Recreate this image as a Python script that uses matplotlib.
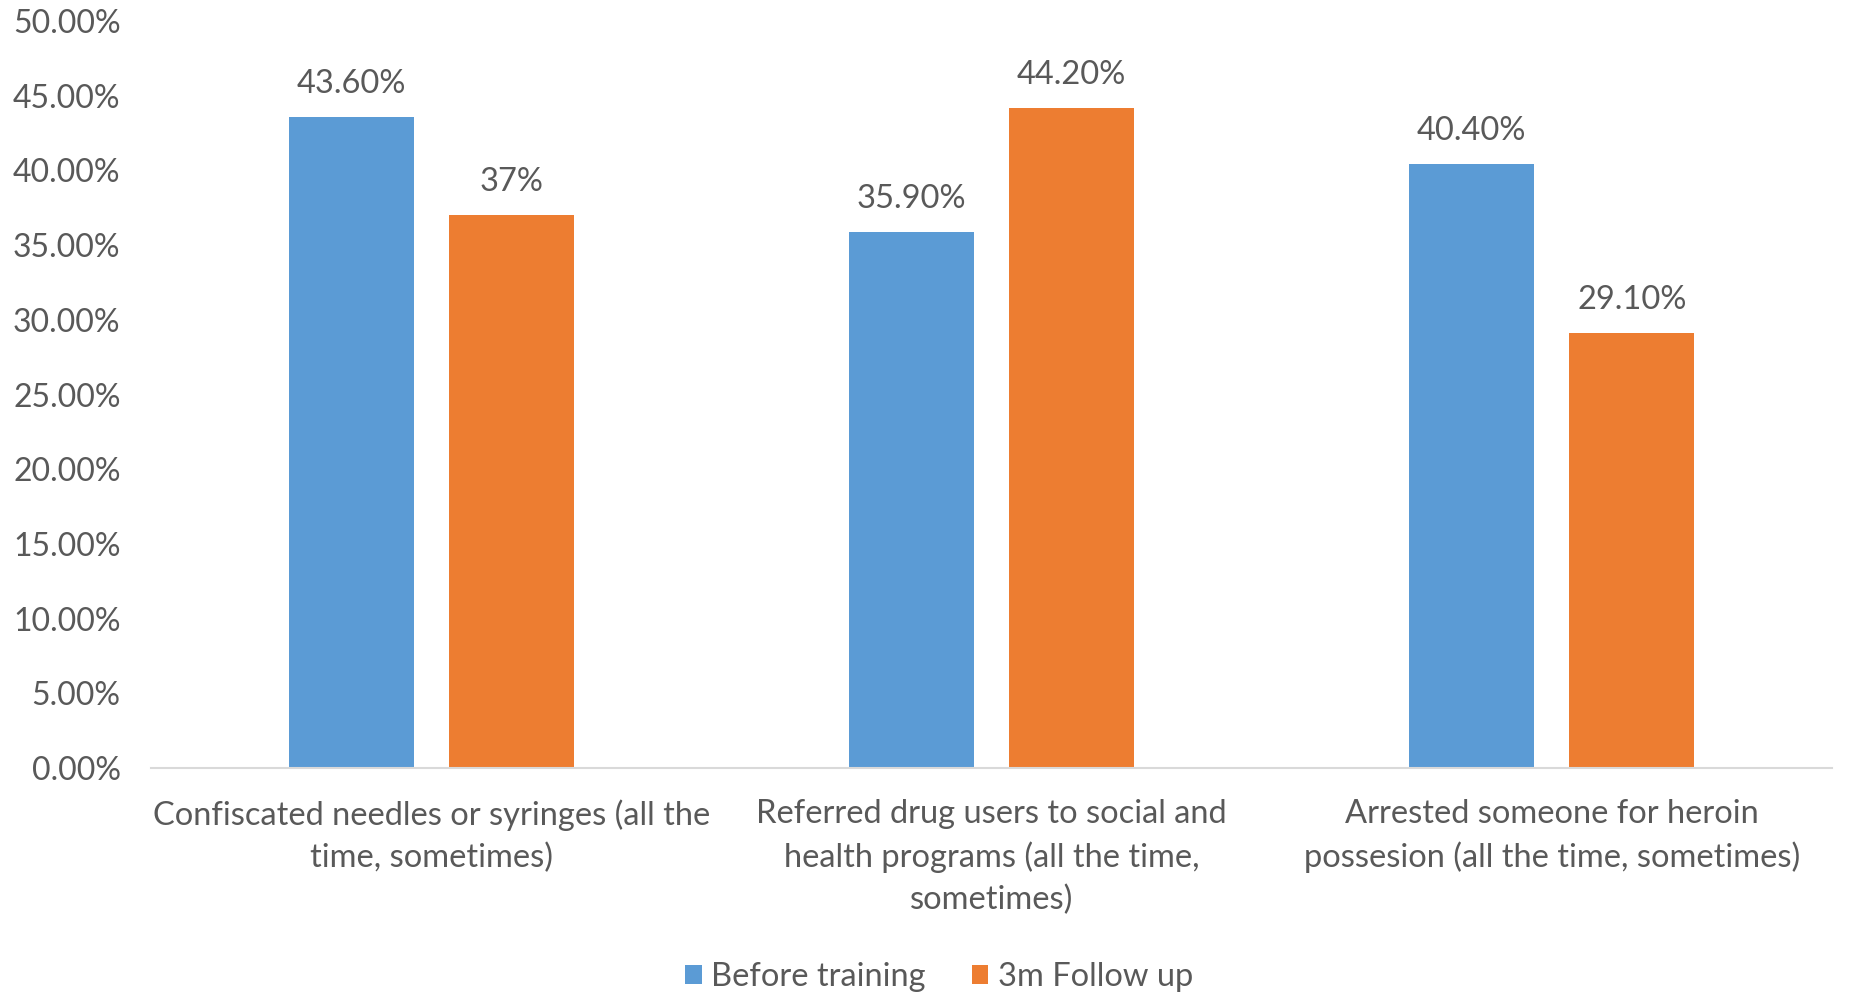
import matplotlib
matplotlib.use("Agg")
import matplotlib.pyplot as plt
from matplotlib.patches import Patch
from matplotlib.ticker import FuncFormatter, MultipleLocator
import numpy as np

# Data
categories = [
    "Confiscated needles or syringes (all the\ntime, sometimes)",
    "Referred drug users to social and\nhealth programs (all the time,\nsometimes)",
    "Arrested someone for heroin\npossesion (all the time, sometimes)",
]
series_names = ["Before training", "3m Follow up"]
before_training = [43.6, 35.9, 40.4]
follow_up_3m = [37.0, 44.2, 29.1]
# decimals shown in each bar's value label
before_decimals = [2, 2, 2]
follow_decimals = [0, 2, 2]

BLUE = "#5B9BD5"
ORANGE = "#ED7D31"
TEXT = "#595959"
AXIS = "#D9D9D9"

plt.rcParams["font.family"] = ["Lato", "DejaVu Sans"]

fig = plt.figure(figsize=(18.56, 9.93), dpi=100)
ax = fig.add_axes([0.0814, 0.2266, 0.9056, 0.7522])

x = np.arange(len(categories))
width = 0.223
offset = 0.143

bars_b = ax.bar(x - offset, before_training, width, color=BLUE, label=series_names[0])
bars_f = ax.bar(x + offset, follow_up_3m, width, color=ORANGE, label=series_names[1])

for bars, vals, decs in ((bars_b, before_training, before_decimals),
                         (bars_f, follow_up_3m, follow_decimals)):
    for b, v, d in zip(bars, vals, decs):
        ax.annotate(f"{v:.{d}f}%", (b.get_x() + b.get_width() / 2, v),
                    xytext=(0, 13), textcoords="offset points",
                    ha="center", va="bottom", fontsize=23.5, color=TEXT)

ax.set_xlim(-0.5, len(categories) - 0.5)
ax.set_ylim(0, 50)
ax.yaxis.set_major_locator(MultipleLocator(5))
ax.yaxis.set_major_formatter(FuncFormatter(lambda v, p: f"{v:.2f}%"))
ax.set_xticks(x)
ax.set_xticklabels(categories, linespacing=1.48)

ax.tick_params(axis="y", length=0, pad=22, labelsize=23, labelcolor=TEXT)
ax.tick_params(axis="x", length=0, pad=22.5, labelsize=23.5, labelcolor=TEXT)

for s in ("top", "right", "left"):
    ax.spines[s].set_visible(False)
ax.spines["bottom"].set_color(AXIS)
ax.spines["bottom"].set_linewidth(1.5)

handles = [Patch(facecolor=BLUE), Patch(facecolor=ORANGE)]
fig.legend(handles, series_names, loc="center", bbox_to_anchor=(0.506, 0.016),
           ncol=2, frameon=False, fontsize=23.5, labelcolor=TEXT,
           handlelength=0.5, handleheight=0.5, handletextpad=0.3,
           columnspacing=1.4)

fig.savefig("out.png", dpi=100, facecolor="white")
